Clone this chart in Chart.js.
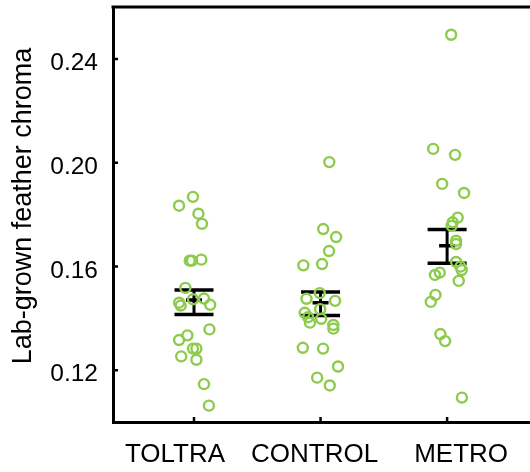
<!DOCTYPE html>
<html>
<head>
<meta charset="utf-8">
<script src="https://cdn.jsdelivr.net/npm/chart.js@4"></script>
<style>
  body { margin: 0; background: #fff; }
  canvas { display: block; }
</style>
</head>
<body>
<canvas id="chart" width="530" height="472"></canvas>
<script>
'use strict';

const categories = ['TOLTRA', 'CONTROL', 'METRO'];
const yTicks = [0.12, 0.16, 0.20, 0.24];

// chroma values per group, and horizontal jitter of each point (x units)
const toltraValues = [0.1868, 0.1834, 0.1803, 0.1764, 0.1622, 0.1622, 0.1626, 0.1517, 0.1473, 0.1460, 0.1449,
  0.1476, 0.1452, 0.1357, 0.1316, 0.1334, 0.1283, 0.1283, 0.1253, 0.1240, 0.1146, 0.1063];
const toltraJitter = [-0.008, -0.118, 0.035, 0.063, -0.034, -0.016, 0.058, -0.068, -0.008, -0.118, -0.105,
  0.079, 0.128, 0.122, -0.118, -0.052, -0.008, 0.019, -0.101, 0.019, 0.079, 0.118];

const controlValues = [0.2002, 0.1744, 0.1713, 0.1659, 0.1604, 0.1609, 0.1497, 0.1475, 0.1467, 0.1421, 0.1404,
  0.1435, 0.1398, 0.1383, 0.1374, 0.1360, 0.1286, 0.1283, 0.1214, 0.1171, 0.1141];
const controlJitter = [0.069, 0.021, 0.123, 0.067, -0.136, 0.012, -0.006, -0.111, 0.115, -0.125, -0.098,
  -0.003, 0.005, -0.084, 0.101, 0.101, -0.140, 0.020, 0.138, -0.027, 0.073];

const metroValues = [0.2493, 0.2053, 0.2030, 0.1918, 0.1883, 0.1788, 0.1770, 0.1756, 0.1699, 0.1686, 0.1617,
  0.1599, 0.1586, 0.1544, 0.1567, 0.1576, 0.1490, 0.1463, 0.1339, 0.1312, 0.1094];
const metroJitter = [0.032, -0.110, 0.063, -0.039, 0.134, 0.084, 0.044, 0.036, 0.071, 0.071, 0.071,
  0.105, 0.115, 0.092, -0.096, -0.058, -0.092, -0.129, -0.053, -0.016, 0.117];

// mean and error bar ends
const means = [0.1470, 0.1460, 0.1680];
const upper = [0.1509, 0.1501, 0.1742];
const lower = [0.1414, 0.1411, 0.1612];

const green = '#8ccb4b';
const fontFamily = "'Liberation Sans', Arial, sans-serif";

function toPoints(values, jitter, pos) {
  return values.map((v, i) => ({ x: pos + jitter[i], y: v }));
}

const groups = [
  toPoints(toltraValues, toltraJitter, 1),
  toPoints(controlValues, controlJitter, 2),
  toPoints(metroValues, metroJitter, 3)
];

const errorBarPlugin = {
  id: 'errorBars',
  beforeDatasetsDraw(chart) {
    const ctx = chart.ctx;
    const xs = chart.scales.x;
    const ys = chart.scales.y;
    ctx.save();
    ctx.strokeStyle = '#000';
    ctx.lineCap = 'butt';
    categories.forEach((c, i) => {
      const cx = xs.getPixelForValue(i + 1);
      const yu = ys.getPixelForValue(upper[i]);
      const yl = ys.getPixelForValue(lower[i]);
      const ym = ys.getPixelForValue(means[i]);
      ctx.lineWidth = 3;
      ctx.beginPath();
      ctx.moveTo(cx, yu);
      ctx.lineTo(cx, yl);
      ctx.stroke();
      ctx.lineWidth = 3.5;
      ctx.beginPath();
      ctx.moveTo(cx - 19.5, yu);
      ctx.lineTo(cx + 19.5, yu);
      ctx.moveTo(cx - 19.5, yl);
      ctx.lineTo(cx + 19.5, yl);
      ctx.moveTo(cx - 8, ym);
      ctx.lineTo(cx + 8, ym);
      ctx.stroke();
    });
    ctx.restore();
  }
};

const framePlugin = {
  id: 'frame',
  afterDraw(chart) {
    const ctx = chart.ctx;
    const area = chart.chartArea;
    const xs = chart.scales.x;
    const ys = chart.scales.y;
    ctx.save();
    ctx.strokeStyle = '#000';
    ctx.lineWidth = 3;
    ctx.beginPath();
    ctx.moveTo(area.left - 1.5, area.top);
    ctx.lineTo(area.right + 2, area.top);
    ctx.stroke();

    // inward ticks
    ctx.lineWidth = 2.5;
    ctx.beginPath();
    yTicks.forEach(v => {
      const y = ys.getPixelForValue(v);
      ctx.moveTo(area.left, y);
      ctx.lineTo(area.left + 5, y);
    });
    categories.forEach((c, i) => {
      const x = xs.getPixelForValue(i + 1);
      ctx.moveTo(x, area.bottom);
      ctx.lineTo(x, area.bottom - 5);
    });
    ctx.stroke();

    // category labels
    const shift = [-19, -6, 14];
    ctx.fillStyle = '#000';
    ctx.font = '26px ' + fontFamily;
    ctx.textAlign = 'center';
    ctx.textBaseline = 'alphabetic';
    categories.forEach((c, i) => {
      ctx.fillText(c, xs.getPixelForValue(i + 1) + shift[i], 462);
    });

    // y axis title
    ctx.translate(24, 206);
    ctx.rotate(-Math.PI / 2);
    ctx.font = '27px ' + fontFamily;
    ctx.textBaseline = 'middle';
    ctx.fillText('Lab-grown feather chroma', 0, 0);
    ctx.restore();
  }
};

const config = {
  type: 'scatter',
  data: {
    datasets: categories.map((c, i) => ({
      label: c,
      data: groups[i],
      borderColor: green,
      backgroundColor: 'rgba(0,0,0,0)',
      borderWidth: 2.4,
      pointRadius: 5,
      pointHoverRadius: 5
    }))
  },
  options: {
    responsive: false,
    animation: false,
    devicePixelRatio: 1,
    layout: { autoPadding: false, padding: { top: 7, right: 0, left: 0, bottom: 0 } },
    plugins: {
      legend: { display: false },
      tooltip: { enabled: false }
    },
    scales: {
      x: {
        type: 'linear',
        min: 0.36,
        max: 3.655,
        grid: { display: false, drawTicks: false },
        ticks: { display: false },
        border: { display: true, color: '#000', width: 3 },
        afterFit(scale) {
          scale.height = 50;
          scale.paddingLeft = 0;
          scale.paddingRight = 0;
        }
      },
      y: {
        min: 0.10,
        max: 0.26,
        grid: { display: false, drawTicks: false },
        border: { display: true, color: '#000', width: 3 },
        afterBuildTicks(scale) { scale.ticks = yTicks.map(v => ({ value: v })); },
        ticks: {
          color: '#000',
          padding: 15,
          labelOffset: 4.5,
          font: { family: fontFamily, size: 24.5 },
          callback: v => v.toFixed(2)
        },
        afterFit(scale) {
          scale.width = 113;
          scale.paddingTop = 0;
          scale.paddingBottom = 0;
        }
      }
    }
  },
  plugins: [errorBarPlugin, framePlugin]
};

new Chart(document.getElementById('chart'), config);
</script>
</body>
</html>
